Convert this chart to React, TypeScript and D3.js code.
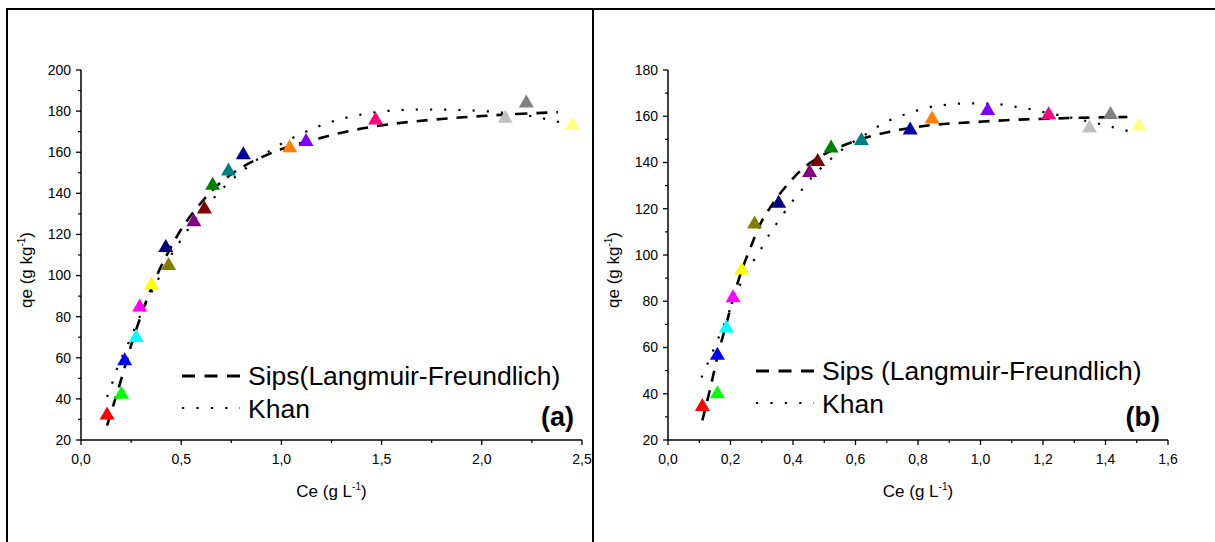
import React from "react";
import * as d3 from "d3";

// ---------- DATA ----------
const markerColors = [
  "#FF0000", "#00FF00", "#0000FF", "#00FFFF", "#FF00FF", "#FFFF00", "#808000",
  "#000080", "#800080", "#800000", "#008000", "#008080", "#0000A0", "#FF8000",
  "#8000FF", "#FF0080", "#C0C0C0", "#808080", "#FFFF80",
];

// Panel (a)
const ceA = [0.130, 0.202, 0.218, 0.276, 0.293, 0.352, 0.437, 0.423, 0.563, 0.616, 0.657, 0.736, 0.810, 1.041, 1.123, 1.470, 2.117, 2.222, 2.453];
const qeA = [33.1, 43.2, 59.5, 70.8, 85.7, 96.5, 105.9, 114.6, 127.1, 133.4, 144.9, 151.8, 159.8, 163.2, 166.2, 176.6, 177.5, 184.9, 174.3];
const sipsA: [number, number][] = [
  [0.13, 27], [0.16, 36.5], [0.19, 46], [0.22, 56], [0.25, 66], [0.28, 75], [0.31, 83.5],
  [0.35, 93.5], [0.4, 104.5], [0.45, 114], [0.5, 122.5], [0.55, 129.5], [0.6, 135.5],
  [0.65, 141], [0.7, 145.5], [0.8, 152.5], [0.9, 157.5], [1.0, 161.5], [1.1, 164.5],
  [1.2, 167], [1.3, 169.5], [1.4, 171.5], [1.6, 174.3], [1.8, 176.2], [2.0, 177.6],
  [2.2, 178.7], [2.38, 179.5],
];
const khanA: [number, number][] = [
  [0.13, 41], [0.158, 48.3], [0.183, 55.6], [0.22, 63.5], [0.26, 72.5], [0.3, 81.5],
  [0.35, 91.5], [0.4, 101], [0.45, 110], [0.5, 117.5], [0.58, 128.5], [0.67, 138.5],
  [0.74, 145.5], [0.82, 152], [0.96, 161.8], [1.1, 169], [1.24, 174.5], [1.38, 178],
  [1.5, 179.8], [1.7, 180.8], [1.9, 180.5], [2.1, 179.3], [2.25, 177.5], [2.35, 175.5],
  [2.45, 173],
];

// Panel (b)
const ceB = [0.110, 0.158, 0.158, 0.187, 0.208, 0.236, 0.277, 0.354, 0.453, 0.479, 0.522, 0.619, 0.775, 0.845, 1.023, 1.218, 1.349, 1.416, 1.507];
const qeB = [35.4, 40.9, 57.5, 69.3, 82.4, 94.4, 114.3, 123.2, 136.5, 141.3, 147.1, 150.4, 154.9, 159.7, 163.4, 161.5, 155.8, 161.6, 156.7];
const sipsB: [number, number][] = [
  [0.11, 28.5], [0.134, 41.6], [0.16, 57], [0.187, 70.4], [0.208, 81], [0.235, 93],
  [0.262, 102.5], [0.294, 113], [0.336, 122.3], [0.395, 132.4], [0.437, 138], [0.48, 142],
  [0.549, 146.7], [0.624, 150.4], [0.699, 153], [0.773, 154.9], [0.858, 156.4],
  [0.933, 157.1], [1.008, 157.7], [1.082, 158.3], [1.157, 158.7], [1.23, 159],
  [1.306, 159.3], [1.381, 159.5], [1.47, 159.7],
];
const khanB: [number, number][] = [
  [0.107, 47], [0.13, 54], [0.15, 60.5], [0.175, 68.5], [0.2, 77], [0.22, 84],
  [0.246, 91.3], [0.272, 97.1], [0.299, 102.9], [0.326, 109.3], [0.357, 115.4],
  [0.389, 121.6], [0.427, 128], [0.464, 134.1], [0.507, 139.8], [0.555, 145.3],
  [0.6, 149.5], [0.645, 153.2], [0.688, 156.9], [0.736, 159.7], [0.784, 161.9],
  [0.832, 163.8], [0.88, 164.8], [0.922, 165.4], [0.965, 165.6], [1.01, 165.5],
  [1.061, 165.2], [1.103, 164.3], [1.15, 163.3], [1.198, 161.9], [1.242, 160.7],
  [1.29, 159.4], [1.33, 158.2], [1.374, 156.9], [1.422, 155.3], [1.47, 153.7], [1.49, 153],
];

const xTicksA = [0, 0.5, 1.0, 1.5, 2.0, 2.5];
const xMinorA = [0.25, 0.75, 1.25, 1.75, 2.25];
const yTicksA = [20, 40, 60, 80, 100, 120, 140, 160, 180, 200];
const xTicksB = [0, 0.2, 0.4, 0.6, 0.8, 1.0, 1.2, 1.4, 1.6];
const xMinorB = [0.1, 0.3, 0.5, 0.7, 0.9, 1.1, 1.3, 1.5];
const yTicksB = [20, 40, 60, 80, 100, 120, 140, 160, 180];

const legendSipsA = "Sips(Langmuir-Freundlich)";
const legendSipsB = "Sips (Langmuir-Freundlich)";
const legendKhan = "Khan";

// ---------- DRAW ----------
const FONT = "Arial, 'Liberation Sans', sans-serif";

type PanelProps = {
  left: number; right: number; top: number; bottom: number;
  xDomain: [number, number]; yDomain: [number, number];
  xTicks: number[]; xMinor: number[]; yTicks: number[];
  ce: number[]; qe: number[]; sips: [number, number][]; khan: [number, number][];
  sipsLabel: string; tag: string; titleX: number; legendX: number; legendY: number;
};

function fmt(v: number) {
  return v.toFixed(1).replace(".", ",");
}

function tri(cx: number, cy: number, s: number) {
  const h = s * Math.sqrt(3) / 2;
  return `M${cx},${cy - h / 2}L${cx + s / 2},${cy + h / 2}L${cx - s / 2},${cy + h / 2}Z`;
}

function Panel(p: PanelProps) {
  const x = d3.scaleLinear().domain(p.xDomain).range([p.left, p.right]);
  const y = d3.scaleLinear().domain(p.yDomain).range([p.bottom, p.top]);
  const line = d3.line<[number, number]>().x(d => x(d[0])).y(d => y(d[1])).curve(d3.curveMonotoneX);
  const yMinor: number[] = [];
  for (let i = 0; i < p.yTicks.length - 1; i++) yMinor.push((p.yTicks[i] + p.yTicks[i + 1]) / 2);
  const midY = (p.top + p.bottom) / 2;
  const midX = (p.left + p.right) / 2;
  const ly = p.legendY;
  return (
    <g fontFamily={FONT}>
      {/* curves */}
      <path d={line(p.sips) || ""} fill="none" stroke="#000" strokeWidth={2.6} strokeDasharray="11,9" />
      <path d={line(p.khan) || ""} fill="none" stroke="#000" strokeWidth={2.2} strokeDasharray="2.2,12" />
      {/* markers */}
      {p.ce.map((c, i) => (
        <path key={i} d={tri(x(c), y(p.qe[i]), 15)} fill={markerColors[i]} />
      ))}
      {/* axes */}
      <line x1={p.left} x2={p.left} y1={p.top} y2={p.bottom} stroke="#000" strokeWidth={1.5} />
      <line x1={p.left} x2={p.right} y1={p.bottom} y2={p.bottom} stroke="#000" strokeWidth={1.5} />
      {p.yTicks.map(t => (
        <g key={"y" + t}>
          <line x1={p.left - 5} x2={p.left} y1={y(t)} y2={y(t)} stroke="#000" strokeWidth={1.3} />
          <text x={p.left - 10} y={y(t)} dy="0.35em" textAnchor="end" fontSize={14}>{t}</text>
        </g>
      ))}
      {yMinor.map(t => (
        <line key={"ym" + t} x1={p.left - 3} x2={p.left} y1={y(t)} y2={y(t)} stroke="#000" strokeWidth={1.2} />
      ))}
      {p.xTicks.map(t => (
        <g key={"x" + t}>
          <line x1={x(t)} x2={x(t)} y1={p.bottom} y2={p.bottom + 5} stroke="#000" strokeWidth={1.3} />
          <text x={x(t)} y={p.bottom + 24} textAnchor="middle" fontSize={14}>{fmt(t)}</text>
        </g>
      ))}
      {p.xMinor.map(t => (
        <line key={"xm" + t} x1={x(t)} x2={x(t)} y1={p.bottom} y2={p.bottom + 3} stroke="#000" strokeWidth={1.2} />
      ))}
      {/* axis titles */}
      <text x={midX} y={p.bottom + 57} textAnchor="middle" fontSize={17}>
        Ce (g L<tspan dy="-7" fontSize={10}>-1</tspan><tspan dy="7">)</tspan>
      </text>
      <text transform={`translate(${p.titleX},${midY + 15}) rotate(-90)`} textAnchor="middle" fontSize={17}>
        qe (g kg<tspan dy="-7" fontSize={10}>-1</tspan><tspan dy="7">)</tspan>
      </text>
      {/* legend */}
      <line x1={p.legendX} x2={p.legendX + 58} y1={ly} y2={ly} stroke="#000" strokeWidth={2.8} strokeDasharray="13,9.5" />
      <text x={p.legendX + 66} y={ly + 9} fontSize={26.5}>{p.sipsLabel}</text>
      <line x1={p.legendX} x2={p.legendX + 58} y1={ly + 32} y2={ly + 32} stroke="#000" strokeWidth={2.2} strokeDasharray="2.2,12.2" />
      <text x={p.legendX + 66} y={ly + 42} fontSize={26.5}>{legendKhan}</text>
      <text x={p.right - 8} y={426} textAnchor="end" fontSize={27} fontWeight="bold">{p.tag}</text>
    </g>
  );
}

export default function App() {
  return (
    <svg width={1215} height={542} style={{ position: "absolute", left: 0, top: 0, background: "#fff" }}>
      <rect x={0} y={0} width={1215} height={542} fill="#fff" />
      {/* frame */}
      <line x1={6} x2={1215} y1={9} y2={9} stroke="#000" strokeWidth={2} />
      <line x1={7} x2={7} y1={8} y2={542} stroke="#000" strokeWidth={2} />
      <line x1={593} x2={593} y1={8} y2={542} stroke="#000" strokeWidth={2} />
      <Panel left={81} right={582} top={70} bottom={440} xDomain={[0, 2.5]} yDomain={[20, 200]}
        xTicks={xTicksA} xMinor={xMinorA} yTicks={yTicksA} ce={ceA} qe={qeA} sips={sipsA} khan={khanA}
        sipsLabel={legendSipsA} tag="(a)" titleX={32} legendX={182} legendY={376} />
      <Panel left={668} right={1168} top={70} bottom={440} xDomain={[0, 1.6]} yDomain={[20, 180]}
        xTicks={xTicksB} xMinor={xMinorB} yTicks={yTicksB} ce={ceB} qe={qeB} sips={sipsB} khan={khanB}
        sipsLabel={legendSipsB} tag="(b)" titleX={619} legendX={756} legendY={371} />
    </svg>
  );
}
